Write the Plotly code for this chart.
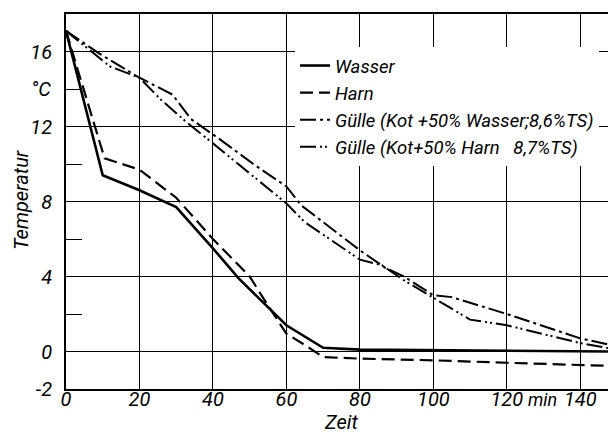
import plotly.graph_objects as go

# ---- data ----
wasser_t = [0, 10, 20, 30, 40, 47, 60, 70, 80, 150]
wasser_v = [17.1, 9.4, 8.6, 7.7, 5.5, 3.9, 1.4, 0.2, 0.1, 0.0]

harn_t = [0, 10.5, 20, 30, 40, 50, 54, 60, 65, 70, 80, 100, 120, 150]
harn_v = [17.1, 10.3, 9.7, 8.2, 6.0, 4.0, 2.75, 0.95, 0.35, -0.3, -0.38, -0.47, -0.6, -0.78]

guelle_w_t = [0, 9, 20, 29, 34, 42, 51, 60, 64, 80, 87, 92, 100, 105, 120, 140, 150]
guelle_w_v = [17.1, 15.9, 14.6, 13.7, 12.4, 11.3, 10.0, 8.8, 7.8, 5.4, 4.45, 4.0, 3.0, 2.9, 2.0, 0.7, 0.27]

guelle_h_t = [0, 12, 20, 26, 33, 40, 60, 65, 80, 86, 92, 100, 110, 120, 140, 150]
guelle_h_v = [17.1, 15.2, 14.6, 13.4, 12.2, 11.1, 7.9, 6.9, 4.9, 4.6, 3.8, 2.85, 1.7, 1.4, 0.45, 0.1]

series_names = [
    "Wasser",
    "Harn",
    "Gülle (Kot +50% Wasser;8,6%TS)",
    "Gülle (Kot+50% Harn   8,7%TS)",
]
x_ticks = [0, 20, 40, 60, 80, 100, 120, 140]
y_ticks = [-2, 0, 4, 8, 12, 16]
y_minor = [2, 6, 10, 14]

FONT = "Roboto, sans-serif"
ital = dict(family=FONT, size=20, color="black", style="italic")

fig = go.Figure()
styles = [
    dict(dash="solid", width=2.6),
    dict(dash="13px,6px", width=2.2),
    dict(dash="16px,4px,3px,4px", width=2.0),
    dict(dash="16px,4px,2px,3px,2px,4px", width=2.0),
]
for (t, v), name, st in zip(
    [(wasser_t, wasser_v), (harn_t, harn_v), (guelle_w_t, guelle_w_v), (guelle_h_t, guelle_h_v)],
    series_names, styles):
    fig.add_trace(go.Scatter(x=t, y=v, mode="lines", name=name,
                             line=dict(color="black", **st)))

L, R, T, B = 58, 7, 6, 59
W, H = 616, 440
pw, ph = W - L - R, H - T - B

def px_x(p):
    return (p - L) / pw

def px_y(p):
    return (H - B - p) / ph

fig.update_layout(
    width=W, height=H,
    margin=dict(l=L, r=R, t=T, b=B, autoexpand=False),
    paper_bgcolor="white", plot_bgcolor="white",
    font=ital,
    showlegend=True,
    legend=dict(
        x=px_x(287), y=px_y(39), xanchor="left", yanchor="top",
        bgcolor="white", borderwidth=0,
        font=dict(family=FONT, size=18.5, color="black", style="italic"),
        itemwidth=30, tracegroupgap=0,
    ),
    xaxis=dict(
        range=[0, 150], tickvals=x_ticks, ticks="", showgrid=True,
        gridcolor="black", gridwidth=1.2, zeroline=False,
        showline=True, mirror=True, linecolor="black", linewidth=1.6,
        tickfont=ital, ticklabelstandoff=-9, automargin=False,
    ),
    yaxis=dict(
        range=[-2, 18], tickvals=y_ticks, ticktext=["-2", "0", "4", "8", "12", "16"],
        ticks="", showgrid=True, gridcolor="black", gridwidth=1.2,
        zeroline=False, showline=True, mirror=True, linecolor="black", linewidth=1.8,
        tickfont=ital, ticklabelstandoff=8, automargin=False,
        minor=dict(tickvals=y_minor, ticks="inside", ticklen=16, tickwidth=1.2,
                   tickcolor="black", showgrid=False),
    ),
    annotations=[
        dict(text="°C", xref="paper", yref="y", x=px_x(45), y=14, xanchor="right",
             yanchor="middle", showarrow=False, font=ital),
        dict(text="Temperatur", xref="paper", yref="paper", x=px_x(13), y=px_y(192),
             xanchor="center", yanchor="middle",
             textangle=-90, showarrow=False, font=ital),
        dict(text="Zeit", xref="paper", yref="paper", x=px_x(333), y=px_y(414),
             xanchor="center", yanchor="middle",
             showarrow=False, font=ital),
        dict(text="min", xref="paper", yref="paper", x=px_x(534), y=px_y(391),
             xanchor="center", yanchor="middle",
             showarrow=False, font=dict(family=FONT, size=18, color="black")),
    ],
    shapes=[
        dict(type="rect", xref="paper", yref="paper", x0=px_x(265), x1=1.0,
             y0=px_y(182), y1=px_y(60), fillcolor="white", line=dict(width=0),
             layer="between"),
    ],
)

fig.write_html("out.html")
